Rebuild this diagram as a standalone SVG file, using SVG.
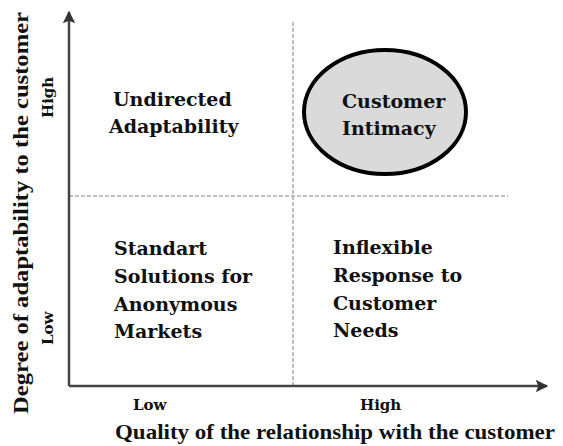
<svg xmlns="http://www.w3.org/2000/svg" width="563" height="446" viewBox="0 0 563 446">
<style>
.t{font-family:"DejaVu Serif","Liberation Serif",serif;font-weight:bold;fill:#111}
.L{font-family:"Liberation Serif","Times New Roman",serif;font-weight:bold;fill:#111}
.q{font-size:19px}
.s{font-size:15px}
.ax{stroke:#444;stroke-width:2.5;fill:none}
.dash{stroke:#aaa;stroke-width:1.5;stroke-dasharray:4 2;fill:none}
</style>
<defs>
<marker id="ah" viewBox="0 0 10 10" refX="9" refY="5" markerWidth="5" markerHeight="5" orient="auto" markerUnits="strokeWidth">
<path d="M0,0 L10,5 L0,10 L2,5 Z" fill="#333"/>
</marker>
</defs>
<rect width="563" height="446" fill="#fff"/>
<g id="connectors">
<line class="dash" x1="293" y1="22" x2="293" y2="386"/>
<line class="dash" x1="69" y1="196" x2="508" y2="196"/>
<path class="ax" d="M69,386 L69,12" marker-end="url(#ah)"/>
<path class="ax" d="M69,386 L547,386" marker-end="url(#ah)"/>
</g>
<g id="undirected">
<text class="t q" x="113" y="106">Undirected</text>
<text class="t q" x="109" y="133">Adaptability</text>
</g>
<g id="intimacy">
<ellipse cx="385" cy="112" rx="81" ry="62" fill="#dadada" stroke="#000" stroke-width="4"/>
<text class="t q" x="342" y="108">Customer</text>
<text class="t q" x="342" y="135">Intimacy</text>
</g>
<g id="standart">
<text class="t q" x="114" y="255">Standart</text>
<text class="t q" x="114" y="283">Solutions for</text>
<text class="t q" x="114" y="311">Anonymous</text>
<text class="t q" x="114" y="338">Markets</text>
</g>
<g id="inflexible">
<text class="t q" x="333" y="254">Inflexible</text>
<text class="t q" x="333" y="282">Response to</text>
<text class="t q" x="333" y="310">Customer</text>
<text class="t q" x="333" y="337">Needs</text>
</g>
<g id="xlabels">
<text class="t s" x="133" y="410">Low</text>
<text class="t s" x="360" y="410">High</text>
<text class="L" font-size="21" x="115" y="439" textLength="440" lengthAdjust="spacingAndGlyphs">Quality of the relationship with the customer</text>
</g>
<g id="ylabels">
<text class="t s" transform="translate(53,118) rotate(-90)" x="0" y="0">High</text>
<text class="t s" transform="translate(53,345) rotate(-90)" x="0" y="0">Low</text>
<text class="L" font-size="22" transform="translate(28,414) rotate(-90)" x="0" y="0" textLength="402" lengthAdjust="spacingAndGlyphs">Degree of adaptability to the customer</text>
</g>
</svg>
